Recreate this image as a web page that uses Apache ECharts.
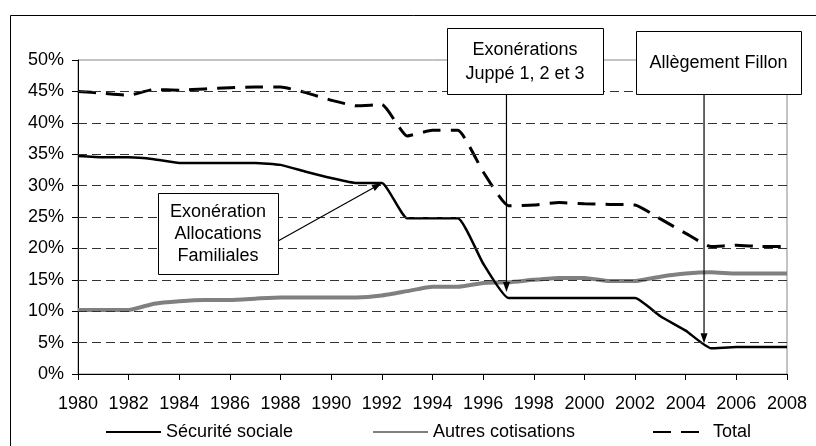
<!DOCTYPE html>
<html><head><meta charset="utf-8">
<script src="https://cdn.jsdelivr.net/npm/echarts@6/dist/echarts.min.js"></script>
<style>html,body{margin:0;padding:0;background:#fff}#c{width:816px;height:446px}</style>
</head><body><div id="c"></div>
<script>
const years = [1980,1981,1982,1983,1984,1985,1986,1987,1988,1989,1990,1991,1992,1993,1994,1995,1996,1997,1998,1999,2000,2001,2002,2003,2004,2005,2006,2007,2008];
const securiteSociale = [34.7,34.5,34.5,34.2,33.6,33.6,33.6,33.6,33.3,32.2,31.2,30.4,30.4,24.8,24.8,24.8,17.6,12.1,12.1,12.1,12.1,12.1,12.1,9.2,6.9,4.1,4.3,4.3,4.3];
const autresCotisations = [10.2,10.2,10.2,11.2,11.6,11.8,11.8,12.0,12.2,12.2,12.2,12.2,12.5,13.2,13.9,13.9,14.5,14.6,15.0,15.3,15.3,14.8,14.8,15.5,16.0,16.2,16.0,16.0,16.0];
const total = [45.0,44.7,44.4,45.3,45.2,45.4,45.6,45.7,45.7,44.8,43.6,42.7,42.9,37.9,38.8,38.8,32.2,26.8,26.9,27.3,27.1,27.0,26.9,24.7,22.4,20.3,20.5,20.3,20.3];
const gridValues = [5,10,15,20,25,30,35,40,45];
const seriesNames = ['Sécurité sociale','Autres cotisations','Total'];

const FONT = "Liberation Sans, Arial, sans-serif";
const pairs = arr => years.map((y,i)=>[y,arr[i]]);
const legendBase = {itemWidth:55,itemHeight:14,top:423,padding:0,itemStyle:{opacity:0},textStyle:{fontFamily:FONT,fontSize:18,color:'#000'}};

const option = {
  animation:false,
  backgroundColor:'#fff',
  grid:{left:78,right:29,top:60,bottom:72,show:true,borderColor:'#888',borderWidth:1,backgroundColor:'transparent'},
  xAxis:{type:'value',min:1980,max:2008,interval:2,
    axisLine:{show:true,onZero:false,lineStyle:{color:'#000',width:1}},
    axisTick:{show:true,length:6,lineStyle:{color:'#000'}},
    splitLine:{show:false},
    axisLabel:{margin:21,color:'#000',fontFamily:FONT,fontSize:18,formatter:v=>String(v)}},
  yAxis:{type:'value',min:0,max:50,interval:5,
    axisLine:{show:true,lineStyle:{color:'#000',width:1}},
    axisTick:{show:true,length:6,lineStyle:{color:'#000'}},
    splitLine:{show:false},
    axisLabel:{margin:14,color:'#000',fontFamily:FONT,fontSize:18,formatter:'{value}%'}},
  legend:[
    Object.assign({data:[seriesNames[0]],left:105},legendBase),
    Object.assign({data:[seriesNames[1]],left:372},legendBase),
    Object.assign({data:[seriesNames[2]],left:652},legendBase)
  ],
  series:[
    {name:seriesNames[0],type:'line',data:pairs(securiteSociale),symbol:'none',smooth:0.15,
      color:'#000',lineStyle:{color:'#000',width:2.5},z:4,
      markLine:{silent:true,symbol:'none',label:{show:false},animation:false,
        lineStyle:{color:'#333',width:1,type:[9,5]},emphasis:{disabled:true},
        data:gridValues.map(v=>({yAxis:v}))}},
    {name:seriesNames[1],type:'line',data:pairs(autresCotisations),symbol:'none',smooth:0.15,
      color:'#808080',lineStyle:{color:'#808080',width:4},z:3},
    {name:seriesNames[2],type:'line',data:pairs(total),symbol:'none',smooth:0.15,
      color:'#000',lineStyle:{color:'#000',width:3,type:[18,10]},z:4}
  ]
};

const chart = echarts.init(document.getElementById('c'));
chart.setOption(option);

function px(year, arr){ return chart.convertToPixel({gridIndex:0},[year, arr[years.indexOf(year)]]); }
function arrow(x1,y1,x2,y2){
  const dx=x2-x1, dy=y2-y1, L=Math.hypot(dx,dy), ux=dx/L, uy=dy/L;
  const hl=10, hw=3.5;
  const bx=x2-ux*hl, by=y2-uy*hl;
  return [
    {type:'line',z:120,shape:{x1,y1,x2:bx,y2:by},style:{stroke:'#000',lineWidth:1.2}},
    {type:'polygon',z:120,shape:{points:[[x2,y2],[bx-uy*hw,by+ux*hw],[bx+uy*hw,by-ux*hw]]},style:{fill:'#000'}}
  ];
}
function box(x,y,w,h,text,lh){
  return [
    {type:'rect',z:110,shape:{x:x+0.5,y:y+0.5,width:w,height:h},style:{fill:'#fff',stroke:'#000',lineWidth:1}},
    {type:'text',z:111,style:{text,x:x+w/2,y:y+h/2+1,align:'center',verticalAlign:'middle',font:'18px '+FONT,lineHeight:lh,fill:'#000'}}
  ];
}
const p1 = px(1992, securiteSociale);
const p2 = px(1997, securiteSociale);
const p3 = px(2005, securiteSociale);
const graphics = [
  {type:'rect',z:0,silent:true,shape:{x:10.5,y:15.5,width:900,height:600},style:{fill:null,stroke:'#000',lineWidth:1}},
  ...arrow(278,241,p1[0],p1[1]),
  ...arrow(p2[0]-2,94,p2[0]-2,p2[1]-6),
  ...arrow(p3[0]-7,94,p3[0]-7,p3[1]-5),
  ...box(158,193,120,81,'Exonération\nAllocations\nFamiliales',22),
  ...box(447,28,156,66,'Exonérations\nJuppé 1, 2 et 3',24),
  ...box(636,31,165,63,'Allègement Fillon',22)
];
chart.setOption({graphic:graphics});
</script></body></html>
